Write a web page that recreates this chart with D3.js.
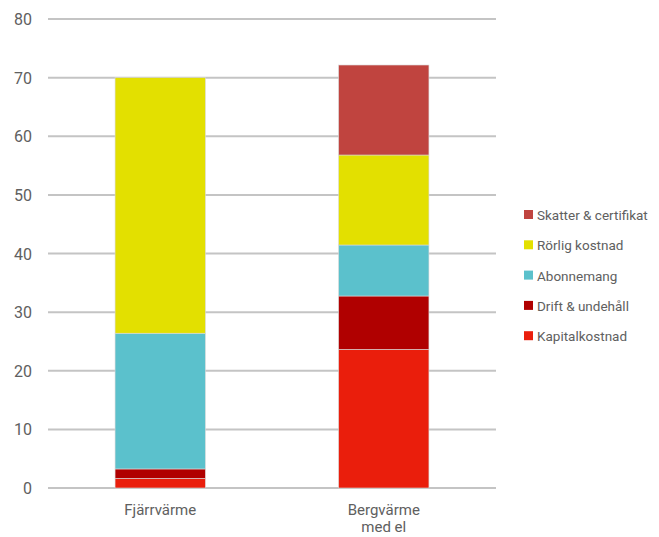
<!DOCTYPE html>
<html>
<head>
<meta charset="utf-8">
<script src="https://cdn.jsdelivr.net/npm/d3@7"></script>
<style>
  body { margin: 0; background: #fff; }
  text { font-family: Roboto, "Noto Sans", sans-serif; fill: #606060; }
</style>
</head>
<body>
<svg id="chart" width="659" height="537"></svg>
<script>
// chart data
const categories = ['Fjärrvärme', 'Bergvärme\nmed el'];
const seriesNames = ['Kapitalkostnad', 'Drift & undehåll', 'Abonnemang', 'Rörlig kostnad', 'Skatter & certifikat'];
const kapital = [1.65, 23.65];
const drift = [1.6, 9.1];
const abonnemang = [23.15, 8.7];
const rorlig = [43.6, 15.35];
const skatter = [0, 15.35];
const yTicks = [0, 10, 20, 30, 40, 50, 60, 70, 80];

const colors = ['#ea1e0c', '#b00000', '#5bc1cc', '#e3e000', '#c0443f'];
const seriesValues = [kapital, drift, abonnemang, rorlig, skatter];

let rows = categories.map(function(c, i){
    let r = {cat: c};
    seriesNames.forEach(function(s, j){ r[s] = seriesValues[j][i]; });
    return r;
});

let svg = d3.select('#chart');

let x = d3.scaleBand()
    .domain(categories)
    .range([48, 496])
    .paddingInner(0.596)
    .paddingOuter(0.3);

let y = d3.scaleLinear()
    .domain([0, 80])
    .range([488, 19]);

// gridlines
svg.append('g')
    .selectAll('line')
    .data(yTicks)
    .enter()
    .append('line')
    .attr('x1', 48)
    .attr('x2', 496)
    .attr('y1', d => y(d))
    .attr('y2', d => y(d))
    .style('stroke', '#c4c4c4')
    .style('stroke-width', 2);

// y labels
svg.append('g')
    .selectAll('text')
    .data(yTicks)
    .enter()
    .append('text')
    .attr('x', 32)
    .attr('y', d => y(d) + 6)
    .attr('text-anchor', 'end')
    .style('font-size', '16px')
    .text(d => d);

let stacked = d3.stack().keys(seriesNames)(rows);

svg.append('g')
    .selectAll('g')
    .data(stacked)
    .enter()
    .append('g')
    .style('fill', (d, i) => colors[i])
    .selectAll('rect')
    .data(d => d)
    .enter()
    .filter(d => d[1] - d[0] > 0)
    .append('rect')
    .attr('x', d => x(d.data.cat))
    .attr('width', x.bandwidth())
    .attr('y', d => y(d[1]))
    .attr('height', d => y(d[0]) - y(d[1]))
    .style('stroke', '#d9d9d9')
    .style('stroke-width', 0.6);

// category labels
let catLabels = svg.append('g')
    .selectAll('text')
    .data(categories)
    .enter()
    .append('text')
    .attr('text-anchor', 'middle')
    .attr('x', d => x(d) + x.bandwidth() / 2)
    .attr('y', 515)
    .style('font-size', '15px');

catLabels.selectAll('tspan')
    .data(d => d.split('\n'))
    .enter()
    .append('tspan')
    .attr('x', function(){ return d3.select(this.parentNode).attr('x'); })
    .attr('dy', (d, i) => i == 0 ? 0 : 17)
    .text(d => d);

// legend, top entry is the last series
let legendItems = seriesNames.slice().reverse();
let legend = svg.append('g')
    .selectAll('g')
    .data(legendItems)
    .enter()
    .append('g')
    .attr('transform', (d, i) => 'translate(524,' + (215 + i * 30.3) + ')');

legend.append('rect')
    .attr('x', 0)
    .attr('y', -5)
    .attr('width', 9)
    .attr('height', 9)
    .style('fill', d => colors[seriesNames.indexOf(d)]);

legend.append('text')
    .attr('x', 13)
    .attr('y', 5)
    .style('font-size', '13.5px')
    .text(d => d);
</script>
</body>
</html>
